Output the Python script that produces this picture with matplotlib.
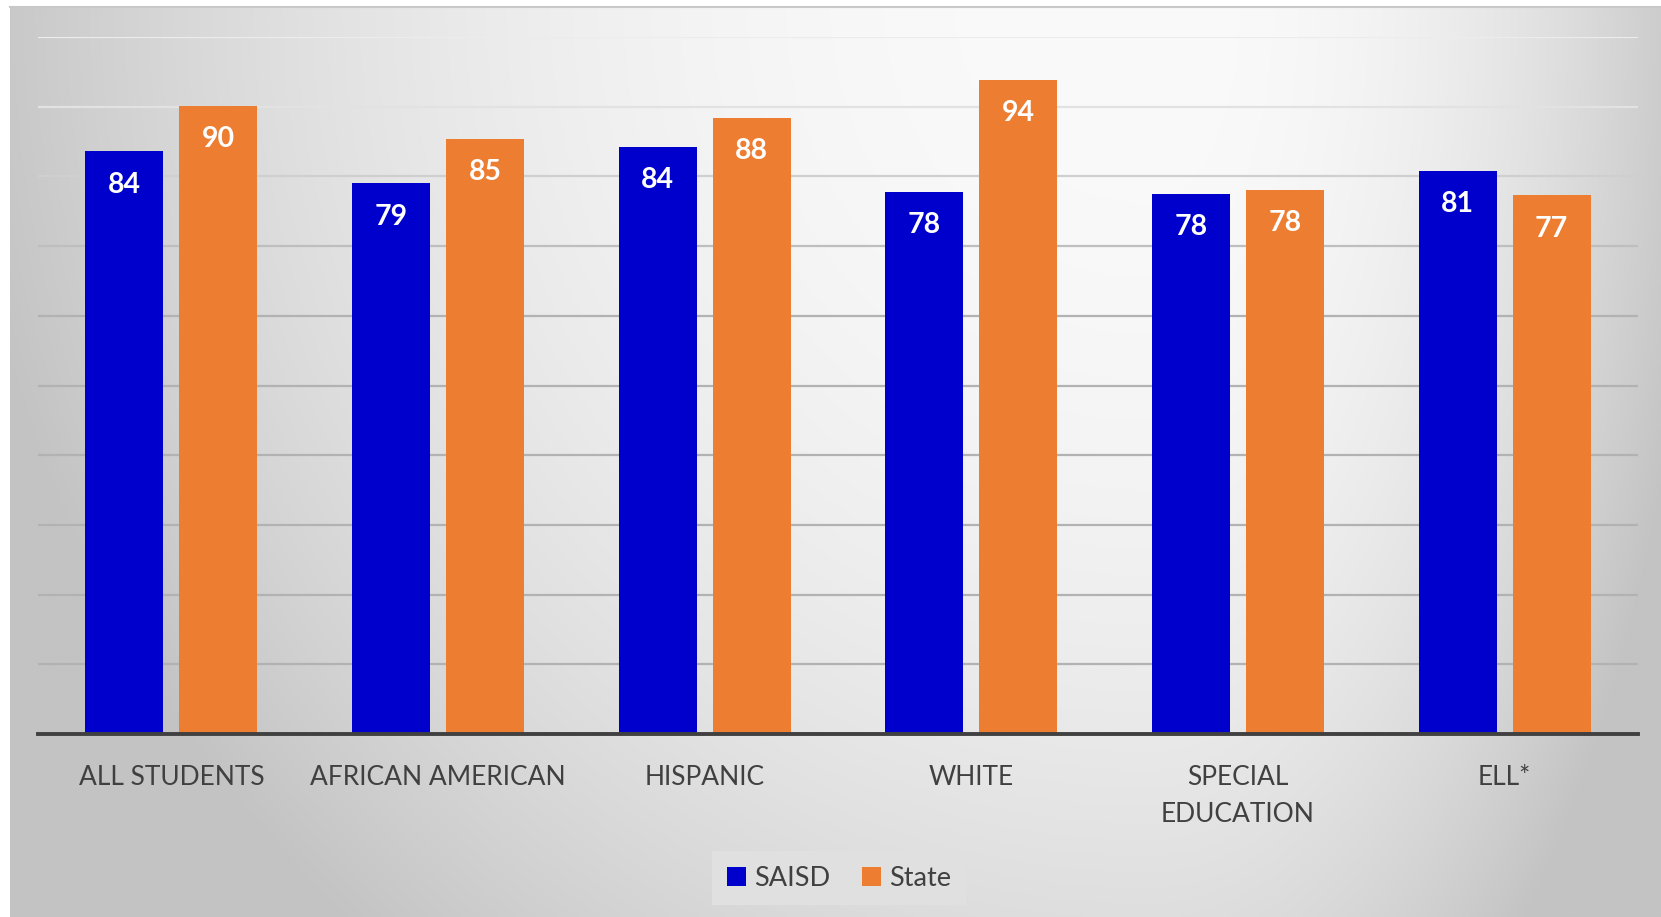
import numpy as np
import matplotlib.pyplot as plt

# --- data ---
categories = ['ALL STUDENTS', 'AFRICAN AMERICAN', 'HISPANIC', 'WHITE',
              'SPECIAL\nEDUCATION', 'ELL*']
saisd = [83.6, 79.0, 84.2, 77.8, 77.5, 80.8]
state = [90.1, 85.4, 88.4, 93.9, 78.1, 77.3]
series_names = ['SAISD', 'State']

W, H, DPI = 1661, 917, 100
plt.rcParams['font.family'] = ['Lato', 'DejaVu Sans']

fig = plt.figure(figsize=(W / DPI, H / DPI), dpi=DPI)
fig.patch.set_facecolor('white')

# background gradient (lightest near top, right of centre)
bg = fig.add_axes([10 / W, 0, 1 - 10 / W, 1 - 7 / H], zorder=0)
xx, yy = np.meshgrid(np.linspace(10, W, 600), np.linspace(7, H, 330))
dx = xx - 1150
ax_scale = np.where(dx < 0, 1200, 560)
r = np.sqrt((dx / ax_scale) ** 2 + (yy / 1250) ** 2)
r = np.clip(r, 0, 1)
g = (250 - 55 * r ** 2.2) / 255
bg.imshow(np.dstack([g, g, g]), aspect='auto', extent=[0, 1, 0, 1], origin='upper')
bg.axis('off')
fig.add_artist(plt.Line2D([10 / W, 1], [1 - 7 / H, 1 - 7 / H], color='#c8c8c8', lw=1.5))

ax = fig.add_axes([38 / W, 1 - 734 / H, (1638 - 38) / W, (734 - 37) / H], zorder=1)
ax.patch.set_alpha(0)

x = np.arange(len(categories))
bw = 0.293
off = 0.1765
b1 = ax.bar(x - off, saisd, bw, color='#0000CC', label=series_names[0], zorder=3)
b2 = ax.bar(x + off, state, bw, color='#ED7D31', label=series_names[1], zorder=3)

for bars, vals in ((b1, saisd), (b2, state)):
    for b, v in zip(bars, vals):
        ax.annotate(f'{v:.0f}', (b.get_x() + b.get_width() / 2, v),
                    xytext=(0, -24), textcoords='offset points',
                    ha='center', va='center', color='white',
                    fontsize=20.5, fontweight='bold', zorder=4)

ax.set_ylim(0, 100)
ax.set_xlim(-0.5, len(categories) - 0.5)

# gridlines: lighter toward the top, as in the original
grid_colors = {100: '#ececec', 90: '#e2e2e2', 80: '#cfcfcf', 70: '#bebebe'}
for lvl in range(10, 101, 10):
    ax.axhline(lvl, color=grid_colors.get(lvl, '#b2b2b2'), lw=1.6, zorder=1)

ax.set_yticks([])
ax.set_xticks(x)
ax.set_xticklabels(categories, fontsize=19, color='#404040', linespacing=1.6)
ax.tick_params(axis='x', length=0, pad=22)
for s in ['top', 'right', 'left']:
    ax.spines[s].set_visible(False)
ax.spines['bottom'].set_color('#404040')
ax.spines['bottom'].set_linewidth(2.8)
ax.spines['bottom'].set_zorder(5)

leg = fig.legend(handles=[b1, b2], loc='center', bbox_to_anchor=(839 / W, 1 - 878 / H),
                 ncol=2, fontsize=19.5, frameon=True, fancybox=False,
                 handlelength=0.7, handleheight=0.7, handletextpad=0.3,
                 columnspacing=1.2, borderpad=0.55, labelcolor='#404040')
leg.get_frame().set_facecolor('#e0e0e0')
leg.get_frame().set_edgecolor('none')
leg.get_frame().set_alpha(1)

fig.savefig('out.png', dpi=DPI)
